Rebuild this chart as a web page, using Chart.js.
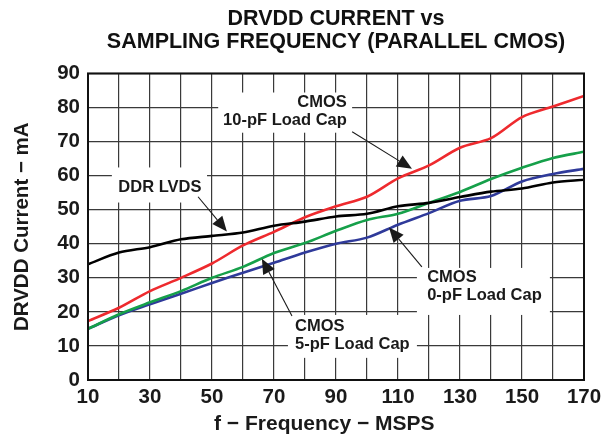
<!DOCTYPE html>
<html>
<head>
<meta charset="utf-8">
<title>DRVDD Current vs Sampling Frequency</title>
<script src="https://cdn.jsdelivr.net/npm/chart.js@4/dist/chart.umd.min.js"></script>
<style>
  html, body { margin: 0; padding: 0; background: #fff; }
  #wrap { width: 613px; height: 440px; position: relative; }
</style>
</head>
<body>
<div id="wrap"><canvas id="chart"></canvas></div>
<script>
// sampling frequency (MSPS)
const FREQ = [10, 20, 30, 40, 50, 60, 70, 80, 90, 100, 110, 120, 130, 140, 150, 160, 170];
// DRVDD current (mA)
const DDR_LVDS  = [34, 37.4, 39, 41.3, 42.3, 43.3, 45.3, 46.5, 48, 48.8, 51, 52, 53.7, 55.3, 56.2, 58, 58.8];
const CMOS_10PF = [17.3, 21.2, 26.1, 30, 34.2, 39.5, 43.5, 47.8, 51, 53.8, 59.2, 63, 68.2, 71, 77.2, 80.3, 83.4];
const CMOS_5PF  = [15, 19.3, 22.8, 26.1, 30, 33.2, 37.3, 40.2, 43.8, 47, 48.8, 52, 55.2, 59, 62.3, 65.2, 67];
const CMOS_0PF  = [15, 19, 22.2, 25.3, 28.5, 31.5, 34.4, 37.4, 40, 41.8, 45.6, 49, 52.6, 54, 58.3, 60.5, 62];
const X_LABELS = [10, 30, 50, 70, 90, 110, 130, 150, 170];
const TITLE = ['DRVDD CURRENT vs', 'SAMPLING FREQUENCY (PARALLEL CMOS)'];

const FONT = '"Liberation Sans", Arial, Helvetica, sans-serif';
const INK = '#1a1a1a';

// callouts, placed in data units (x: MSPS, y: mA)
const CALLOUTS = [
  { lines: ['CMOS', '10-pF Load Cap'], align: 'right', tx: 93.5, ty: [81.5, 76.2],
    box: [52, 95.2, 84.4, 72.6], from: [95.2, 72.9], to: [114.5, 62] },
  { lines: ['DDR LVDS'], align: 'center', tx: 33.2, ty: [56.6],
    box: [17.7, 48.4, 62.4, 52.1], from: [45.5, 53.8], to: [54.8, 43.6] },
  { lines: ['CMOS', '5-pF Load Cap'], align: 'left', tx: 76.8, ty: [15.6, 10.3],
    box: [74.5, 116.1, 19.1, 6.5], from: [75.8, 18.8], to: [66.1, 35.6] },
  { lines: ['CMOS', '0-pF Load Cap'], align: 'left', tx: 119.4, ty: [30, 24.7],
    box: [116.1, 159, 32.9, 19.1], from: [117.7, 33.2], to: [107.1, 44.8] }
];

function series(values) {
  return FREQ.map((f, i) => ({ x: f, y: values[i] }));
}

function line(label, values, color) {
  return {
    label, data: series(values), borderColor: color, backgroundColor: color,
    borderWidth: 2.6, pointRadius: 0, tension: 0.3, fill: false
  };
}

const calloutPlugin = {
  id: 'callouts',
  beforeDatasetsDraw(chart) {
    const { ctx, scales: { x, y } } = chart;
    ctx.save();
    ctx.fillStyle = '#fff';
    CALLOUTS.forEach(c => {
      const x0 = x.getPixelForValue(c.box[0]), x1 = x.getPixelForValue(c.box[1]);
      const y0 = y.getPixelForValue(c.box[2]), y1 = y.getPixelForValue(c.box[3]);
      ctx.fillRect(x0, y0, x1 - x0, y1 - y0);
    });
    ctx.fillStyle = INK;
    ctx.font = 'bold 16.5px ' + FONT;
    ctx.textBaseline = 'middle';
    CALLOUTS.forEach(c => {
      ctx.textAlign = c.align;
      c.lines.forEach((t, i) => ctx.fillText(t, x.getPixelForValue(c.tx), y.getPixelForValue(c.ty[i])));
    });
    ctx.restore();
  },
  afterDatasetsDraw(chart) {
    const { ctx, scales: { x, y } } = chart;
    ctx.save();
    ctx.strokeStyle = INK;
    ctx.fillStyle = INK;
    ctx.lineWidth = 1.1;
    CALLOUTS.forEach(c => {
      const fx = x.getPixelForValue(c.from[0]), fy = y.getPixelForValue(c.from[1]);
      const tx = x.getPixelForValue(c.to[0]), ty = y.getPixelForValue(c.to[1]);
      const ang = Math.atan2(ty - fy, tx - fx);
      const len = 15, half = 6.5;
      const bx = tx - Math.cos(ang) * len, by = ty - Math.sin(ang) * len;
      ctx.beginPath();
      ctx.moveTo(fx, fy);
      ctx.lineTo(bx, by);
      ctx.stroke();
      ctx.beginPath();
      ctx.moveTo(tx, ty);
      ctx.lineTo(bx + Math.sin(ang) * half, by - Math.cos(ang) * half);
      ctx.lineTo(bx - Math.sin(ang) * half, by + Math.cos(ang) * half);
      ctx.closePath();
      ctx.fill();
    });
    ctx.restore();
  },
  afterDraw(chart) {
    const { ctx, chartArea: a } = chart;
    ctx.save();
    ctx.strokeStyle = '#111';
    ctx.lineWidth = 2;
    ctx.strokeRect(a.left, a.top, a.right - a.left, a.bottom - a.top);
    ctx.restore();
  }
};

new Chart(document.getElementById('chart'), {
  type: 'line',
  data: {
    datasets: [
      line('DDR LVDS', DDR_LVDS, '#000000'),
      line('CMOS 10-pF Load Cap', CMOS_10PF, '#ee2a2e'),
      line('CMOS 5-pF Load Cap', CMOS_5PF, '#16a04a'),
      line('CMOS 0-pF Load Cap', CMOS_0PF, '#2f3a9a')
    ]
  },
  options: {
    responsive: true,
    maintainAspectRatio: false,
    animation: false,
    layout: { padding: { left: 0, right: 29, top: 0, bottom: 0 } },
    plugins: {
      legend: { display: false },
      tooltip: { enabled: false },
      title: {
        display: true, text: TITLE, fullSize: false, color: '#111',
        font: { family: FONT, size: 21.5, weight: 'bold', lineHeight: 1.08 },
        padding: { top: 7, bottom: 20 }
      }
    },
    scales: {
      x: {
        type: 'linear', min: 10, max: 170,
        afterFit: s => { s.height = 60; },
        grid: { color: '#3a3a3a', lineWidth: 1.2, drawTicks: false },
        border: { display: false },
        ticks: {
          stepSize: 10, padding: 5, color: INK, maxRotation: 0, autoSkip: false,
          font: { family: FONT, size: 20.5, weight: 'bold' },
          callback: v => X_LABELS.includes(v) ? String(v) : ''
        },
        title: {
          display: true, text: 'f − Frequency − MSPS    ', color: INK,
          font: { family: FONT, size: 21, weight: 'bold' }, padding: { top: 0, bottom: 3 }
        }
      },
      y: {
        min: 0, max: 90,
        afterFit: s => { s.width = 88; },
        grid: { color: '#3a3a3a', lineWidth: 1.2, drawTicks: false },
        border: { display: false },
        ticks: {
          stepSize: 10, padding: 8, color: INK,
          font: { family: FONT, size: 20.5, weight: 'bold' }
        },
        title: {
          display: true, text: 'DRVDD Current − mA', color: INK,
          font: { family: FONT, size: 20.5, weight: 'bold' }, padding: { top: 10, bottom: 0 }
        }
      }
    }
  },
  plugins: [calloutPlugin]
});
</script>
</body>
</html>
